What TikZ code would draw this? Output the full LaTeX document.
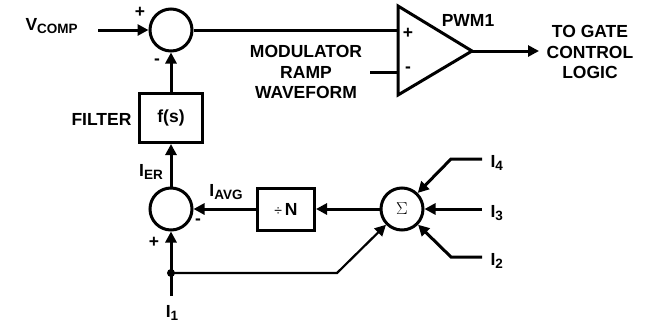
\documentclass[tikz,border=0pt]{standalone}
\usepackage{fontspec}
\setmainfont{Liberation Sans}
\usetikzlibrary{arrows.meta}
\newcommand\lowtxt[1]{\raisebox{-0.35ex}{\fontsize{13.5}{14}\selectfont #1}}

\begin{document}
\begin{tikzpicture}
[x=1pt,y=-1pt,
 font=\fontsize{17.5}{20.5}\selectfont\bfseries,
 sum/.style={draw,circle,line width=3pt,minimum size=42pt,inner sep=0pt},
 blk/.style={draw,rectangle,line width=3pt,inner sep=0pt},
 wire/.style={line width=3pt},
 arr/.style={wire,-{Triangle[length=11pt,width=11pt]}},
 sgn/.style={inner sep=0pt}]
\useasboundingbox (0,0) rectangle (649,325);

\node[sum] (s1) at (171,30) {};
\node[blk,minimum width=63pt,minimum height=49pt] (flt) at (171,118) {f(s)};
\node[sum] (s2) at (171,209) {};
\node[blk,minimum width=57pt,minimum height=42pt] (div) at (286,209) {{\fontsize{14}{14}\selectfont\mdseries ÷}\,N};
\node[sum] (sig) at (402,209) {\fontsize{16}{16}\selectfont$\Sigma$};

% comparator
\draw[wire,line join=miter] (398,6) -- (398,95) -- (472,51) -- cycle;
\coordinate (pp) at (398,30);
\coordinate (pm) at (398,72);
\coordinate (pout) at (472,51);

\coordinate (vc) at (98,30);
\coordinate (rmp) at (370,72);
\coordinate (gate) at (539,51);
\coordinate (i1) at (171,296);
\coordinate (jn) at (171,273);
\coordinate (bend) at (337,273);
\coordinate (i4a) at (482,159);
\coordinate (i4b) at (451,159);
\coordinate (i3) at (482,209);
\coordinate (i2a) at (482,257);
\coordinate (i2b) at (451,257);

\node[anchor=west] (lvc) at (22,26) {V\lowtxt{COMP}};
\node[sgn] (p1) at (140,12) {+};
\node[sgn] (m1) at (157,62) {-};
\node[anchor=east] (lflt) at (135,119) {FILTER};
\node (ler) at (151,172) {I\lowtxt{ER}};
\node (lavg) at (226,192) {I\lowtxt{AVG}};
\node[sgn] (p2) at (154,242) {+};
\node[sgn] (m2) at (198,222) {-};
\node (li1) at (172,313) {I\lowtxt{1}};
\node[anchor=west] (li4) at (487,163) {I\lowtxt{4}};
\node[anchor=west] (li3) at (487,213) {I\lowtxt{3}};
\node[anchor=west] (li2) at (487,261) {I\lowtxt{2}};
\node[sgn] (p3) at (408,33) {+};
\node[sgn] (m3) at (408,70) {-};
\node (lpwm) at (468,20) {PWM1};
\node[align=center] (lramp) at (306,72) {MODULATOR\\RAMP\\WAVEFORM};
\node[align=center] (lgate) at (590,52) {TO GATE\\CONTROL\\LOGIC};

\foreach \from/\to in {vc/s1,flt/s1,s2/flt,div/s2,sig/div,i1/s2,i3/sig,pout/gate}
\draw[arr] (\from) -- (\to);
\draw[wire] (s1.east) -- (pp);
\draw[wire] (rmp) -- (pm);
\draw[arr] (i4a) -- (i4b) -- (sig);
\draw[arr] (i2a) -- (i2b) -- (sig);
\draw[arr,line width=2.2pt] (jn) -- (bend) -- (sig);
\fill (jn) circle (4pt);
\end{tikzpicture}
\end{document}
